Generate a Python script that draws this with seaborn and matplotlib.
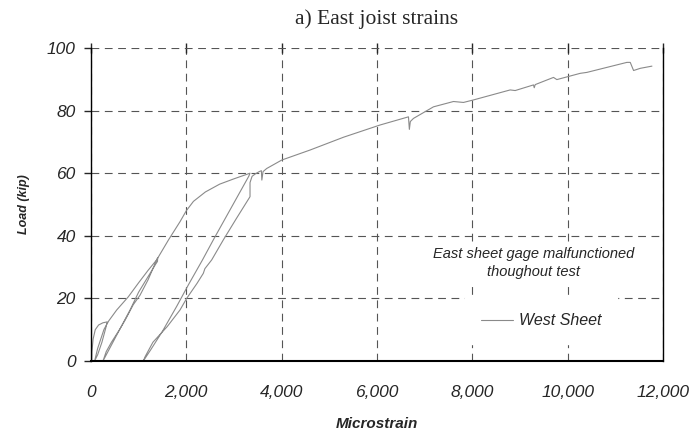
import pandas as pd
import seaborn as sns
import matplotlib.pyplot as plt

# West sheet gage trace in load order (microstrain, kip)
load1_strain = [15, 20, 45, 90, 160, 250, 340]
load1_kip = [0, 3, 7, 10, 11.5, 12.2, 12.5]

unload1_strain = [340, 310, 230, 140, 77]
unload1_kip = [12.5, 10.5, 6, 2, 0]

load2_strain = [77, 140, 273, 372, 540, 783, 1000, 1200, 1378, 1400, 1395, 1360]
load2_kip = [0, 4, 10.1, 12.8, 16.3, 20.5, 25, 29, 32.3, 33, 31.8, 31]

unload2_strain = [1360, 1200, 1000, 820, 600, 426, 252]
unload2_kip = [31, 27, 22, 16.3, 10, 5, 0]

load3_strain = [252, 320, 430, 602, 714, 888, 1028, 1200, 1378, 1627, 1868,
                2000, 2150, 2400, 2700, 3000, 3337]
load3_kip = [0, 3, 6, 10.1, 13, 18, 21, 26, 32.3, 38.7, 44.5,
             48, 51, 54, 56.5, 58.2, 60]

unload3_strain = [3337, 3310, 2567, 2340, 2050, 1800, 1500, 1250, 1098]
unload3_kip = [60, 59, 38.7, 32.3, 24.5, 17.5, 9.5, 3.5, 0]

load4_strain = [1098, 1140, 1300, 1600, 1868, 2008, 2225, 2357, 2390, 2533, 2777,
                3050, 3337, 3337, 3380, 3450, 3530, 3575, 3585, 3610, 3687, 4003,
                4597, 5300, 6066, 6661, 6680, 6700, 6766, 7186, 7605, 7815, 8024,
                8795, 8900, 9284, 9300, 9320, 9704, 9774, 10264, 10404, 11244,
                11314, 11384, 11524, 11769]
load4_kip = [0, 1.5, 6, 11, 16.3, 20, 24.8, 28, 29.5, 32.3, 38.7,
             45.5, 52.5, 57, 59, 59.8, 60.5, 60.8, 57.8, 60.5, 61.5, 64.2,
             67.4, 71.5, 75.4, 78.0, 74.0, 76.5, 77.5, 81.2, 82.9, 82.6, 83.4,
             86.6, 86.4, 88.2, 87.3, 88.3, 90.6, 89.9, 91.9, 92.2, 95.4,
             95.4, 92.8, 93.5, 94.2]

x_ticks = [0, 2000, 4000, 6000, 8000, 10000, 12000]
y_ticks = [0, 20, 40, 60, 80, 100]

strain = (load1_strain + unload1_strain + load2_strain + unload2_strain
          + load3_strain + unload3_strain + load4_strain)
kip = (load1_kip + unload1_kip + load2_kip + unload2_kip
       + load3_kip + unload3_kip + load4_kip)
df = pd.DataFrame({'strain': strain, 'load': kip})
df['gage'] = 'West Sheet'

sns.set_style('white')
plt.rcParams['font.family'] = ['Liberation Sans', 'DejaVu Sans']

fig = plt.figure(figsize=(6.96, 4.41), dpi=100)
ax = fig.add_axes([0.1307, 0.1814, 0.8218, 0.7098])

sns.lineplot(data=df, x='strain', y='load', hue='gage', sort=False,
             estimator=None, palette={'West Sheet': '#8a8a8a'},
             linewidth=0.8, ax=ax)

ax.set_xlim(0, 12000)
ax.set_ylim(0, 100)
ax.set_xticks(x_ticks)
ax.set_yticks(y_ticks)
ax.set_xticklabels([f'{v:,}' for v in x_ticks], fontsize=12.5, style='italic')
ax.set_yticklabels([str(v) for v in y_ticks], fontsize=12.5, style='italic')
ax.tick_params(axis='x', direction='inout', length=7, width=1, pad=14, top=True)
ax.tick_params(axis='y', direction='out', length=5, width=1, pad=6, left=True)

ax.grid(True, linestyle=(0, (7, 5)), color='#555555', linewidth=0.8)
ax.spines['top'].set_visible(False)
for side in ['left', 'right', 'bottom']:
    ax.spines[side].set_color('black')
ax.spines['left'].set_linewidth(1.0)
ax.spines['right'].set_linewidth(1.0)
ax.spines['bottom'].set_linewidth(1.5)

ax.set_title('a) East joist strains', family='Liberation Serif', fontsize=15.5, pad=17)
ax.set_xlabel('Microstrain', fontsize=11, weight='bold', style='italic', labelpad=12)
ax.set_ylabel('Load (kip)', fontsize=9, weight='bold', style='italic', labelpad=12)

ax.text(9280, 31.3, 'East sheet gage malfunctioned\nthoughout test',
        ha='center', va='center', fontsize=10.5, style='italic', linespacing=1.3,
        bbox=dict(facecolor='white', edgecolor='none', pad=4), zorder=5)

leg = ax.legend(loc='center', bbox_to_anchor=(0.787, 0.128), fontsize=11.5,
                handlelength=2.0, handletextpad=0.4, borderpad=1.0,
                frameon=True, fancybox=False)
leg.get_frame().set_edgecolor('white')
leg.get_frame().set_facecolor('white')
leg.get_frame().set_alpha(1)
for t in leg.get_texts():
    t.set_style('italic')
leg.set_zorder(6)

plt.savefig('out.png', dpi=100)
